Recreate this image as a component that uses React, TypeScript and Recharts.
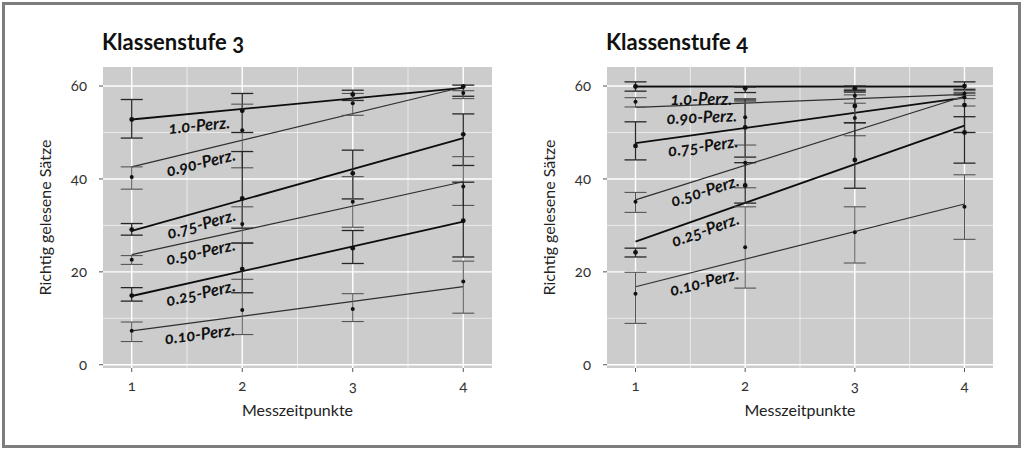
import React from 'react';
import {
  ComposedChart,
  Line,
  Scatter,
  ErrorBar,
  XAxis,
  YAxis,
  CartesianGrid,
  Label,
} from 'recharts';

// ---------- data ----------
const timePoints = [1, 2, 3, 4];
const xTicks = [1, 2, 3, 4];
const yTicks = [0, 20, 40, 60];
const xMinorGrid = [1.5, 2.5, 3.5];
const yMinorGrid = [10, 30, 50];
const percentileLabels = ['1.0-Perz.', '0.90-Perz.', '0.75-Perz.', '0.50-Perz.', '0.25-Perz.', '0.10-Perz.'];
const labelAtX = 1.6;

// Klassenstufe 3 — fitted trend (value at time 1 and time 4), per percentile
const k3TrendStart = [52.8, 42.6, 28.8, 23.7, 14.8, 7.3];
const k3TrendEnd = [59.6, 59.8, 48.8, 39.4, 30.8, 16.8];
// observed values per percentile at times 1..4
const k3Observed = [
  [52.8, 54.7, 58.2, 59.9],
  [40.4, 50.5, 56.3, 58.5],
  [29.1, 35.8, 41.2, 49.6],
  [22.6, 30.3, 35.1, 38.4],
  [14.9, 20.6, 25.1, 31.0],
  [7.3, 11.8, 12.0, 17.9],
];
const k3Low = [
  [48.8, 50.0, 56.9, 57.8],
  [37.8, 42.4, 53.7, 57.3],
  [27.9, 29.4, 35.7, 42.9],
  [21.6, 26.2, 29.6, 34.3],
  [13.7, 15.5, 21.8, 23.2],
  [5.0, 6.5, 9.3, 11.1],
];
const k3High = [
  [57.1, 58.4, 59.1, 60.2],
  [42.6, 56.1, 58.4, 59.0],
  [30.4, 45.9, 46.2, 54.0],
  [23.5, 34.0, 40.5, 44.8],
  [16.6, 26.2, 28.9, 39.3],
  [9.2, 18.4, 15.3, 22.3],
];

// Klassenstufe 4
const k4TrendStart = [59.9, 55.4, 47.7, 35.5, 26.5, 16.8];
const k4TrendEnd = [59.9, 58.2, 57.5, 57.8, 51.5, 34.6];
const k4Observed = [
  [59.9, 59.5, 59.5, 60.0],
  [56.6, 53.3, 57.9, 58.4],
  [47.1, 51.1, 55.7, 55.9],
  [35.1, 43.5, 53.1, 57.6],
  [24.2, 38.6, 44.1, 50.0],
  [15.3, 25.3, 28.5, 34.0],
];
const k4Low = [
  [58.9, 58.6, 59.0, 59.3],
  [55.5, 47.3, 56.3, 57.3],
  [44.1, 44.7, 52.1, 50.0],
  [32.8, 38.1, 49.3, 55.7],
  [23.2, 34.8, 38.0, 43.4],
  [8.9, 16.5, 21.9, 27.0],
];
const k4High = [
  [60.9, 59.8, 60.0, 60.9],
  [57.5, 57.3, 59.3, 59.0],
  [52.3, 57.0, 58.7, 58.5],
  [37.1, 56.6, 58.1, 58.0],
  [25.1, 43.5, 52.1, 53.4],
  [19.9, 34.0, 34.0, 40.9],
];

// ---------- styles ----------
const FONT = 'Lato, "Open Sans", "Noto Sans", sans-serif';
const seriesDark = [true, false, true, false, true, false];

function makeLabelDot(text: string) {
  return (props: any) => {
    const { index, points } = props;
    if (index !== 0 || !points || points.length < 2) return <g key={`d-${index}`} />;
    const p0 = points[0];
    const p1 = points[points.length - 1];
    const t = (labelAtX - timePoints[0]) / (timePoints[timePoints.length - 1] - timePoints[0]);
    const x = p0.x + (p1.x - p0.x) * t;
    const y = p0.y + (p1.y - p0.y) * t;
    const ang = Math.atan2(p1.y - p0.y, p1.x - p0.x);
    const off = 12;
    const lx = x - Math.sin(ang) * off;
    const ly = y + Math.cos(ang) * off;
    return (
      <text
        key={`d-${index}`}
        x={lx}
        y={ly}
        transform={`rotate(${(ang * 180) / Math.PI}, ${lx}, ${ly})`}
        textAnchor="middle"
        dominantBaseline="central"
        fontFamily={FONT}
        fontWeight={700}
        fontStyle="italic"
        fontSize={16.5}
        fill="#111"
        style={{ fontVariantNumeric: 'oldstyle-nums' }}
      >
        {text}
      </text>
    );
  };
}

const dotShape = (r: number) => (p: any) => <circle cx={p.cx} cy={p.cy} r={r} fill="#111" />;

const xLabelContent = (props: any) => {
  const vb = props.viewBox || {};
  return (
    <text
      x={vb.x + vb.width / 2}
      y={vb.y + 48}
      textAnchor="middle"
      fontFamily={FONT}
      fontSize={16}
      fill="#222"
    >
      Messzeitpunkte
    </text>
  );
};

const yLabelContent = (props: any) => {
  const vb = props.viewBox || {};
  const cx = vb.x + 14;
  const cy = vb.y + vb.height / 2;
  return (
    <text
      x={cx}
      y={cy}
      transform={`rotate(-90, ${cx}, ${cy})`}
      textAnchor="middle"
      dominantBaseline="central"
      fontFamily={FONT}
      fontSize={16}
      fill="#222"
    >
      Richtig gelesene Sätze
    </text>
  );
};

type PanelProps = {
  title: string;
  left: number;
  width: number;
  margin: { top: number; right: number; left: number; bottom: number };
  trendStart: number[];
  trendEnd: number[];
  observed: number[][];
  low: number[][];
  high: number[][];
};

function Panel({ title, left, width, margin, trendStart, trendEnd, observed, low, high }: PanelProps) {
  const tickStyle = { fill: '#333', fontSize: 15, fontFamily: FONT, style: { fontVariantNumeric: 'oldstyle-nums' } };
  return (
    <div style={{ position: 'absolute', left, top: 0, width, height: 451 }}>
      <div
        style={{
          position: 'absolute',
          left: margin.left + 73 - 1,
          top: 29,
          fontFamily: FONT,
          fontWeight: 700,
          fontSize: 22,
          lineHeight: '26px',
          color: '#111',
          whiteSpace: 'nowrap',
          fontVariantNumeric: 'oldstyle-nums',
        }}
      >
        {title}
      </div>
      <ComposedChart width={width} height={451} margin={margin}>
        <CartesianGrid
          fill="#cccccc"
          fillOpacity={1}
          stroke="#ffffff"
          strokeWidth={1.4}
          verticalValues={xTicks}
          horizontalValues={yTicks}
        />
        <CartesianGrid
          stroke="#ffffff"
          strokeOpacity={0.75}
          strokeWidth={0.8}
          verticalValues={xMinorGrid}
          horizontalValues={yMinorGrid}
        />
        <XAxis
          type="number"
          dataKey="x"
          domain={[0.74, 4.26]}
          ticks={xTicks}
          interval={0}
          allowDataOverflow
          axisLine={false}
          tickLine={{ stroke: '#555' }}
          tickSize={4}
          tickMargin={8}
          height={40}
          tick={tickStyle}
        >
          <Label content={xLabelContent} />
        </XAxis>
        <YAxis
          type="number"
          domain={[-0.7, 64.1]}
          ticks={yTicks}
          interval={0}
          allowDataOverflow
          axisLine={false}
          tickLine={{ stroke: '#555' }}
          tickSize={4}
          tickMargin={12}
          width={73}
          tick={tickStyle}
        >
          <Label content={yLabelContent} />
        </YAxis>
        {percentileLabels.map((lab, i) => (
          <Line
            key={`trend-${i}`}
            data={[
              { x: timePoints[0], y: trendStart[i] },
              { x: timePoints[timePoints.length - 1], y: trendEnd[i] },
            ]}
            dataKey="y"
            stroke={seriesDark[i] ? '#0d0d0d' : '#2e2e2e'}
            strokeWidth={seriesDark[i] ? 1.8 : 1.2}
            dot={makeLabelDot(lab)}
            activeDot={false}
            isAnimationActive={false}
            legendType="none"
          />
        ))}
        {percentileLabels.map((lab, i) => (
          <Scatter
            key={`obs-${i}`}
            data={timePoints.map((x, j) => ({
              x,
              y: observed[i][j],
              err: [observed[i][j] - low[i][j], high[i][j] - observed[i][j]],
            }))}
            dataKey="y"
            shape={dotShape(seriesDark[i] ? 2.4 : 2.0)}
            isAnimationActive={false}
            legendType="none"
          >
            <ErrorBar
              dataKey="err"
              direction="y"
              width={11}
              stroke={seriesDark[i] ? '#262626' : '#555555'}
              strokeWidth={seriesDark[i] ? 1.3 : 1.1}
              isAnimationActive={false}
            />
          </Scatter>
        ))}
      </ComposedChart>
    </div>
  );
}

export default function App() {
  return (
    <div style={{ position: 'absolute', left: 0, top: 0, width: 1024, height: 451, background: '#ffffff', overflow: 'hidden' }}>
      <div
        style={{
          position: 'absolute',
          left: 2,
          top: 2,
          width: 1019,
          height: 446,
          boxSizing: 'border-box',
          border: '3px solid #7d7d7d',
        }}
      />
      <Panel
        title="Klassenstufe 3"
        left={0}
        width={500}
        margin={{ top: 67, right: 8, left: 30, bottom: 43 }}
        trendStart={k3TrendStart}
        trendEnd={k3TrendEnd}
        observed={k3Observed}
        low={k3Low}
        high={k3High}
      />
      <Panel
        title="Klassenstufe 4"
        left={500}
        width={524}
        margin={{ top: 67, right: 31, left: 34, bottom: 43 }}
        trendStart={k4TrendStart}
        trendEnd={k4TrendEnd}
        observed={k4Observed}
        low={k4Low}
        high={k4High}
      />
    </div>
  );
}
